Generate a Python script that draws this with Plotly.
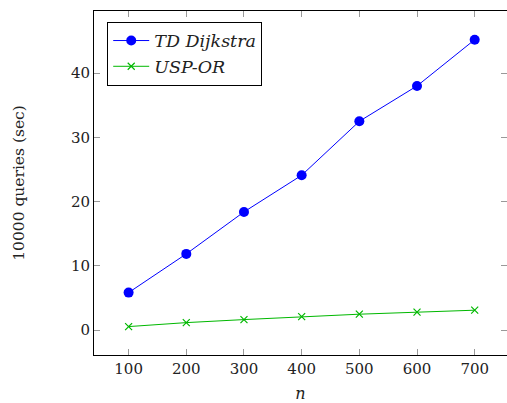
import plotly.graph_objects as go

n_values = [100, 200, 300, 400, 500, 600, 700]
td_dijkstra = [5.85, 11.87, 18.4, 24.1, 32.5, 38.0, 45.2]
usp_or = [0.56, 1.18, 1.65, 2.1, 2.49, 2.8, 3.11]
x_ticks = [100, 200, 300, 400, 500, 600, 700]
y_ticks = [0, 10, 20, 30, 40]

FONT = "DejaVu Serif"

fig = go.Figure()
fig.add_trace(go.Scatter(
    x=n_values, y=td_dijkstra, mode="lines+markers", name="<i>TD Dijkstra</i>",
    line=dict(color="#0000ff", width=1),
    marker=dict(symbol="circle", size=10, color="#0000ff"),
))
fig.add_trace(go.Scatter(
    x=n_values, y=usp_or, mode="lines+markers", name="<i>USP-OR</i>",
    line=dict(color="#00b800", width=1),
    marker=dict(symbol="x-thin", size=7, line=dict(color="#00b800", width=1.2)),
))

axis_common = dict(
    showgrid=False, zeroline=False, showline=True, linecolor="black", linewidth=1,
    mirror="allticks", ticks="inside", ticklen=6, tickcolor="#999999", tickwidth=1,
    tickfont=dict(family=FONT, size=15, color="#222222"), automargin=False,
)
fig.update_xaxes(range=[40, 756], tickvals=x_ticks, ticktext=[str(v) for v in x_ticks],
                 title=dict(text="<i>n</i>", font=dict(family=FONT, size=16, color="#222222"), standoff=14),
                 **axis_common)
fig.update_yaxes(range=[-3.86, 49.66], tickvals=y_ticks, ticktext=[str(v) for v in y_ticks],
                 title=dict(text="10000 queries (sec)", font=dict(family=FONT, size=15.5, color="#222222"), standoff=42),
                 **axis_common)

fig.update_layout(
    width=507, height=403,
    margin=dict(l=94, r=0, t=11, b=48),
    plot_bgcolor="white", paper_bgcolor="white",
    font=dict(family=FONT, color="#222222"),
    legend=dict(
        x=0.032, y=0.969, xanchor="left", yanchor="top",
        bordercolor="black", borderwidth=1, bgcolor="white",
        font=dict(family=FONT, size=17.5, color="#222222"),
        itemwidth=36, tracegroupgap=0,
    ),
    showlegend=True,
)

fig.write_html("out.html", config={"displayModeBar": False},
               post_script="document.body.style.margin='0';document.body.style.overflow='hidden';")
